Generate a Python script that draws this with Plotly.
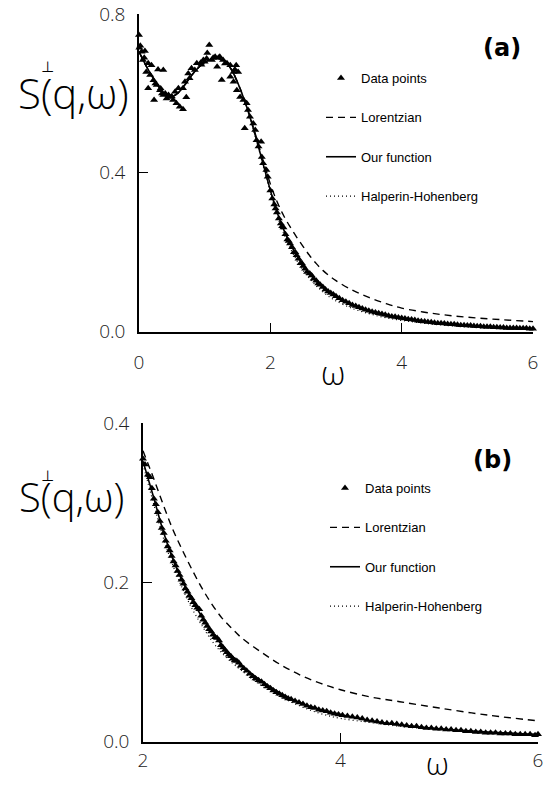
import plotly.graph_objects as go

# ---------------- Panel (a) ----------------
fit_w_a = [0.0, 0.1, 0.2, 0.3, 0.4, 0.5, 0.6, 0.7, 0.8, 0.9, 1.0, 1.1, 1.2, 1.3, 1.4, 1.5, 1.6, 1.7,
           1.8, 1.9, 2.0, 2.1, 2.2, 2.3, 2.4, 2.5, 2.6, 2.7, 2.8, 2.9, 3.0, 3.25, 3.5, 3.75, 4.0,
           4.5, 5.0, 5.5, 6.0]
our_a = [0.705, 0.672, 0.643, 0.617, 0.598, 0.592, 0.602, 0.622, 0.645, 0.664, 0.678, 0.686, 0.688,
         0.682, 0.662, 0.628, 0.585, 0.535, 0.477, 0.416, 0.356, 0.302, 0.258, 0.222, 0.192, 0.167,
         0.145, 0.127, 0.111, 0.098, 0.087, 0.066, 0.051, 0.04, 0.032, 0.021, 0.014, 0.01, 0.007]
lor_a = [0.705, 0.672, 0.643, 0.617, 0.598, 0.592, 0.602, 0.622, 0.645, 0.664, 0.678, 0.686, 0.688,
         0.682, 0.662, 0.628, 0.586, 0.537, 0.482, 0.425, 0.372, 0.328, 0.293, 0.264, 0.238, 0.214,
         0.191, 0.171, 0.154, 0.14, 0.128, 0.104, 0.086, 0.071, 0.059, 0.045, 0.036, 0.03, 0.025]
hh_a = [0.705, 0.672, 0.643, 0.617, 0.598, 0.592, 0.602, 0.622, 0.645, 0.664, 0.678, 0.686, 0.688,
        0.682, 0.662, 0.628, 0.584, 0.533, 0.474, 0.412, 0.35, 0.295, 0.249, 0.211, 0.18, 0.154,
        0.133, 0.115, 0.1, 0.087, 0.077, 0.058, 0.045, 0.035, 0.028, 0.018, 0.011, 0.007, 0.005]

data_w_a = [0.0, 0.005, 0.04, 0.09, 0.06, 0.14, 0.19, 0.11, 0.17, 0.29, 0.37, 0.22, 0.27, 0.14, 0.32,
            0.23, 0.37, 0.42, 0.47, 0.52, 0.57, 0.62, 0.67, 0.55, 0.60, 0.67, 0.72, 0.70, 0.75,
            0.80, 0.77, 0.85, 0.88, 0.94, 0.98, 1.03, 1.07, 1.04, 1.11, 1.16, 1.19, 1.23, 1.28,
            1.26, 1.34, 1.39, 1.48, 1.44, 1.51, 1.39, 1.44, 1.49, 1.54, 1.59, 1.64, 1.66, 1.69,
            1.61, 1.74, 1.77, 1.86, 1.79, 1.82, 1.87, 1.89, 1.94, 0.45, 0.50, 0.33, 0.40, 1.13,
            1.21, 0.02, 0.08, 0.25, 0.35, 0.95, 1.00, 1.31, 1.46,
            1.96, 2.0, 2.03, 2.06, 2.08, 2.1, 2.13, 2.16, 2.18, 2.2, 2.23, 2.26, 2.28, 2.3, 2.33,
            2.36, 2.38, 2.4, 2.43, 2.46, 2.48, 2.5, 2.53, 2.56, 2.6, 2.63, 2.66, 2.7, 2.73, 2.76,
            2.8, 2.84, 2.88, 2.92, 2.96, 3.0, 3.05, 3.1, 3.15, 3.2, 3.25, 3.3, 3.35, 3.4, 3.45,
            3.5, 3.55, 3.6, 3.65, 3.7, 3.75, 3.8, 3.85, 3.9, 3.95, 4.0, 4.05, 4.1, 4.15, 4.2, 4.25,
            4.3, 4.35, 4.4, 4.45, 4.5, 4.55, 4.6, 4.65, 4.7, 4.75, 4.8, 4.85, 4.9, 4.95, 5.0,
            5.05, 5.1, 5.15, 5.2, 5.25, 5.3, 5.35, 5.4, 5.45, 5.5, 5.55, 5.6, 5.65, 5.7, 5.75,
            5.8, 5.85, 5.9, 5.95, 6.0]
data_s_a = [0.747, 0.715, 0.705, 0.707, 0.684, 0.676, 0.671, 0.654, 0.646, 0.66, 0.659, 0.633, 0.621,
            0.613, 0.608, 0.583, 0.596, 0.587, 0.591, 0.583, 0.575, 0.566, 0.56, 0.604, 0.613,
            0.613, 0.59, 0.629, 0.65, 0.663, 0.638, 0.659, 0.676, 0.677, 0.684, 0.688, 0.722,
            0.702, 0.684, 0.692, 0.667, 0.692, 0.684, 0.634, 0.676, 0.671, 0.671, 0.654, 0.654,
            0.642, 0.629, 0.608, 0.591, 0.583, 0.575, 0.558, 0.541, 0.512, 0.524, 0.508, 0.478,
            0.482, 0.466, 0.44, 0.424, 0.407, 0.596, 0.592, 0.612, 0.6, 0.69, 0.69, 0.72, 0.69,
            0.625, 0.6, 0.672, 0.68, 0.675, 0.66,
            0.39, 0.355, 0.335, 0.32, 0.31, 0.30, 0.285, 0.272, 0.265, 0.262, 0.245, 0.232, 0.228,
            0.222, 0.212, 0.2, 0.2, 0.192, 0.183, 0.172, 0.172, 0.165, 0.158, 0.15, 0.146, 0.141,
            0.133, 0.128, 0.121, 0.118, 0.112, 0.106, 0.101, 0.097, 0.093, 0.089, 0.084, 0.079,
            0.075, 0.071, 0.067, 0.064, 0.061, 0.058, 0.055, 0.052, 0.05, 0.048, 0.046, 0.044,
            0.042, 0.04, 0.038, 0.037, 0.035, 0.034, 0.033, 0.031, 0.03, 0.029, 0.027, 0.026,
            0.025, 0.024, 0.023, 0.022, 0.021, 0.021, 0.02, 0.019, 0.018, 0.018, 0.017, 0.016,
            0.016, 0.015, 0.015, 0.014, 0.013, 0.013, 0.012, 0.012, 0.012, 0.011, 0.011, 0.01,
            0.01, 0.009, 0.009, 0.009, 0.009, 0.008, 0.008, 0.008, 0.007, 0.007, 0.007]

# ---------------- Panel (b) ----------------
fit_w_b = [2.0, 2.1, 2.2, 2.3, 2.4, 2.5, 2.6, 2.7, 2.8, 2.9, 3.0, 3.2, 3.4, 3.6, 3.8, 4.0, 4.3, 4.6,
           5.0, 5.5, 6.0]
our_b = [0.352, 0.31, 0.266, 0.23, 0.201, 0.177, 0.156, 0.137, 0.121, 0.107, 0.095, 0.076, 0.06,
         0.048, 0.04, 0.034, 0.026, 0.021, 0.016, 0.012, 0.009]
lor_b = [0.365, 0.333, 0.299, 0.267, 0.24, 0.215, 0.192, 0.172, 0.155, 0.142, 0.13, 0.112, 0.096,
         0.083, 0.073, 0.065, 0.056, 0.05, 0.042, 0.033, 0.026]
hh_b = [0.348, 0.302, 0.258, 0.222, 0.192, 0.166, 0.145, 0.126, 0.111, 0.099, 0.089, 0.07, 0.056,
        0.044, 0.035, 0.029, 0.024, 0.019, 0.015, 0.011, 0.008]

data_w_b = [2.00, 2.02, 2.05, 2.07, 2.09, 2.11, 2.13, 2.15, 2.17, 2.19, 2.21, 2.23, 2.25, 2.27,
            2.29, 2.31, 2.33, 2.35, 2.37, 2.39, 2.41, 2.43, 2.45, 2.47, 2.49, 2.51, 2.53, 2.55,
            2.57, 2.59, 2.61, 2.63, 2.65, 2.67, 2.69, 2.71, 2.73, 2.75, 2.77, 2.79, 2.81, 2.83,
            2.85, 2.87, 2.89, 2.91, 2.93, 2.95, 2.97, 2.99, 3.02, 3.05, 3.08, 3.11, 3.14, 3.17,
            3.2, 3.23, 3.26, 3.29, 3.32, 3.35, 3.38, 3.41, 3.44, 3.47, 3.5, 3.54, 3.58, 3.62,
            3.66, 3.7, 3.74, 3.78, 3.82, 3.86, 3.9, 3.94, 3.98, 4.02, 4.07, 4.12, 4.17, 4.22,
            4.27, 4.32, 4.37, 4.42, 4.47, 4.52, 4.57, 4.62, 4.67, 4.72, 4.77, 4.82, 4.87, 4.92,
            4.97, 5.02, 5.07, 5.12, 5.17, 5.22, 5.27, 5.32, 5.37, 5.42, 5.47, 5.52, 5.57, 5.62,
            5.67, 5.72, 5.77, 5.82, 5.87, 5.92, 5.97, 6.0]
data_s_b = [0.355, 0.348, 0.335, 0.332, 0.318, 0.305, 0.298, 0.288, 0.277, 0.268, 0.262, 0.252,
            0.245, 0.24, 0.233, 0.226, 0.221, 0.214, 0.209, 0.203, 0.198, 0.192, 0.188, 0.183,
            0.18, 0.175, 0.171, 0.168, 0.166, 0.158, 0.153, 0.149, 0.145, 0.141, 0.138, 0.134,
            0.131, 0.13, 0.127, 0.121, 0.118, 0.115, 0.112, 0.109, 0.107, 0.104, 0.102, 0.101,
            0.099, 0.095, 0.092, 0.089, 0.085, 0.082, 0.079, 0.077, 0.075, 0.072, 0.069, 0.067,
            0.064, 0.062, 0.06, 0.058, 0.056, 0.054, 0.053, 0.051, 0.049, 0.047, 0.045, 0.043,
            0.042, 0.04, 0.039, 0.038, 0.036, 0.035, 0.034, 0.033, 0.032, 0.031, 0.03, 0.029,
            0.027, 0.026, 0.025, 0.024, 0.023, 0.023, 0.022, 0.021, 0.02, 0.019, 0.019, 0.018,
            0.017, 0.017, 0.016, 0.016, 0.015, 0.015, 0.014, 0.014, 0.013, 0.013, 0.012, 0.012,
            0.011, 0.011, 0.011, 0.01, 0.01, 0.01, 0.009, 0.009, 0.009, 0.009, 0.008, 0.009]

x_ticks_a = [0, 2, 4, 6]
y_ticks_a = [0.0, 0.4, 0.8]
y_ticklabels_a = ["0.0", "0.4", "0.8"]
x_ticks_b = [2, 4, 6]
y_ticks_b = [0.0, 0.2, 0.4]
y_ticklabels_b = ["0.0", "0.2", "0.4"]

names = ["Data points", "Lorentzian", "Our function", "Halperin-Hohenberg"]

W, H = 550, 786
def px(x):
    return x / W
def py(y):
    return 1 - y / H

fig = go.Figure()

def add_panel(xa, ya, leg, wd, sd, wf, our, lor, hh):
    fig.add_trace(go.Scatter(x=wd, y=sd, mode="markers", name=names[0],
                             marker=dict(symbol="triangle-up", size=7, color="black", line=dict(width=0)),
                             xaxis=xa, yaxis=ya, legend=leg, legendgroup=leg + "d", cliponaxis=False))
    fig.add_trace(go.Scatter(x=wf, y=lor, mode="lines", name=names[1], line_shape="spline",
                             line=dict(color="black", width=1.4, dash="7px,5px"),
                             xaxis=xa, yaxis=ya, legend=leg, legendgroup=leg + "l"))
    fig.add_trace(go.Scatter(x=wf, y=our, mode="lines", name=names[2], line_shape="spline",
                             line=dict(color="black", width=1.6),
                             xaxis=xa, yaxis=ya, legend=leg, legendgroup=leg + "o"))
    fig.add_trace(go.Scatter(x=wf, y=hh, mode="lines", name=names[3], line_shape="spline",
                             line=dict(color="black", width=1.2, dash="1px,3px"),
                             xaxis=xa, yaxis=ya, legend=leg, legendgroup=leg + "h"))

add_panel("x", "y", "legend", data_w_a, data_s_a, fit_w_a, our_a, lor_a, hh_a)
add_panel("x2", "y2", "legend2", data_w_b, data_s_b, fit_w_b, our_b, lor_b, hh_b)

tickfont = dict(family="Open Sans", size=19, color="#222", weight=300)
axis_common = dict(showgrid=False, zeroline=False, showline=True, linecolor="black", linewidth=1.5,
                   ticks="inside", ticklen=9, tickwidth=1.4, tickcolor="black", tickfont=tickfont,
                   fixedrange=True, automargin=False)

legend_common = dict(font=dict(family="Liberation Sans", size=13, color="black"),
                     bgcolor="rgba(0,0,0,0)", borderwidth=0, tracegroupgap=19.5,
                     xanchor="left", yanchor="top", itemclick=False, itemdoubleclick=False)

fig.update_layout(
    template="none",
    width=W, height=H, margin=dict(l=0, r=0, t=0, b=0, autoexpand=False),
    paper_bgcolor="white", plot_bgcolor="white", showlegend=True,
    xaxis=dict(domain=[px(139), px(533)], range=[0, 6], tickvals=x_ticks_a, anchor="y",
               ticklabelstandoff=13, **axis_common),
    yaxis=dict(domain=[py(331.5), py(14)], range=[0, 0.8], tickvals=y_ticks_a,
               ticktext=y_ticklabels_a, anchor="x", ticklabelstandoff=8, **axis_common),
    xaxis2=dict(domain=[px(143), px(538)], range=[2, 6], tickvals=x_ticks_b, anchor="y2",
                ticklabelstandoff=1, **axis_common),
    yaxis2=dict(domain=[py(741.5), py(423)], range=[0, 0.4], tickvals=y_ticks_b,
                ticktext=y_ticklabels_b, anchor="x2", ticklabelstandoff=8, **axis_common),
    legend=dict(x=px(321), y=py(63), **legend_common),
    legend2=dict(x=px(325), y=py(473), **legend_common),
)

lab = dict(family="Open Sans", color="black", weight=300)
annots = [
    dict(text="(a)", x=px(502), y=py(48), font=dict(family="DejaVu Sans", size=24, color="black", weight="bold")),
    dict(text="(b)", x=px(492), y=py(460), font=dict(family="DejaVu Sans", size=24, color="black", weight="bold")),
    dict(text="S(q,ω)", x=px(73), y=py(92), font=dict(size=42, **lab)),
    dict(text="⊥", x=px(47), y=py(67), font=dict(size=15, family="DejaVu Sans", color="black")),
    dict(text="S(q,ω)", x=px(71), y=py(497), font=dict(size=40, **lab)),
    dict(text="⊥", x=px(47), y=py(476), font=dict(size=15, family="DejaVu Sans", color="black")),
    dict(text="ω", x=px(333), y=py(372), font=dict(size=33, **lab)),
]
for a in annots:
    fig.add_annotation(xref="paper", yref="paper", showarrow=False, xanchor="center", yanchor="middle", **a)
fig.add_annotation(xref="paper", yref="paper", showarrow=False, xanchor="center", yanchor="bottom",
                   text="ω", x=px(437), y=0, font=dict(size=31, **lab))

fig.write_html("out.html")
